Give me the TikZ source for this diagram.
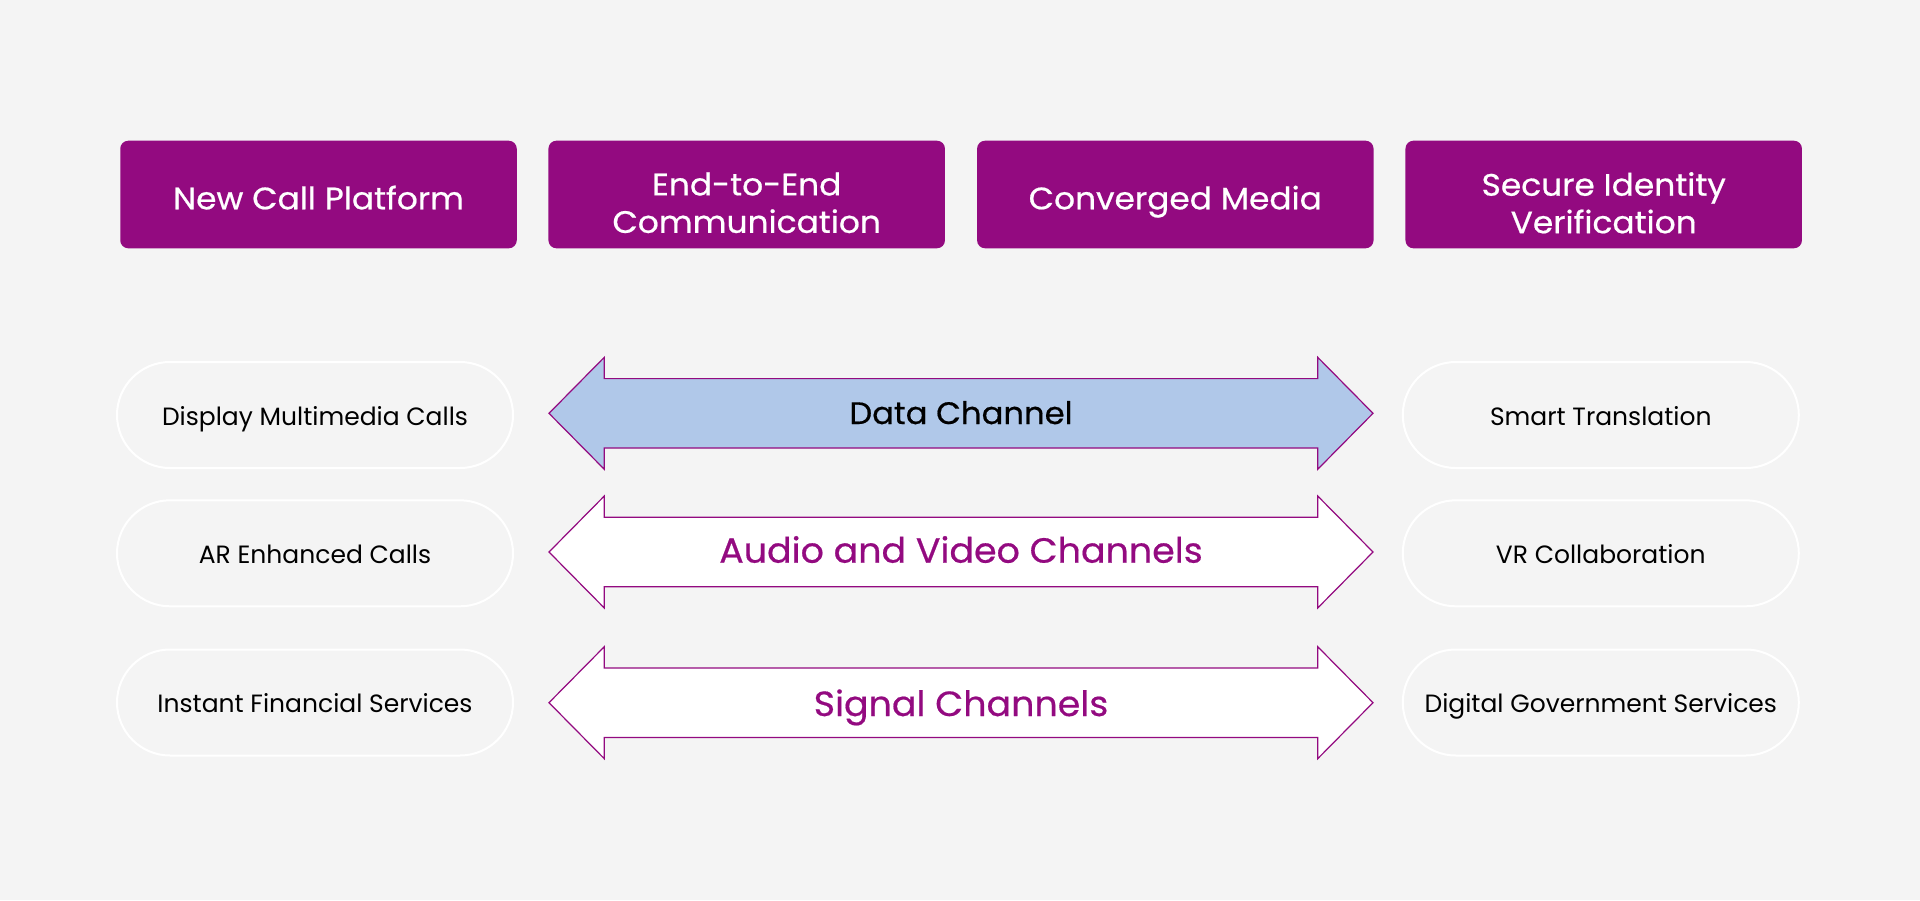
\documentclass[tikz,border=0pt]{standalone}
\usepackage{fontspec}
\setmainfont{Poppins}
\newfontfamily\topfont[FakeStretch=1.06, FakeBold=0.6]{Poppins}
\newfontfamily\arrowfont[FakeStretch=1.04, FakeBold=0.5]{Poppins}
\definecolor{brand}{RGB}{147,10,128}
\definecolor{bgc}{RGB}{244,244,244}
\definecolor{datafill}{RGB}{176,200,233}
\tikzset{
  topbox/.style={rectangle, rounded corners=8pt, fill=brand, minimum width=396.5pt, minimum height=107.6pt, inner sep=0pt},
  toptext/.style={text=white, align=center, inner sep=0pt, font=\topfont\fontsize{31}{37.5}\selectfont},
  pill/.style={rectangle, rounded corners=53pt, draw=white, line width=2pt, minimum width=396pt, minimum height=106pt, inner sep=0pt, text height=20.3pt, text depth=0pt, text=black, font=\fontsize{25}{29}\selectfont},
  arrowshape/.style={draw=brand, line width=1.2pt, line join=miter},
  arrowlabel/.style={inner sep=0pt, anchor=base, font=\arrowfont\fontsize{31}{36}\selectfont}
}
\begin{document}
\begin{tikzpicture}[x=1pt,y=-1pt]
\fill[bgc] (0,0) rectangle (1920,900);
\useasboundingbox (0,0) rectangle (1920,900);
% top boxes
\node[topbox] (b1) at (318.5,194.5) {};
\node[topbox] (b2) at (746.7,194.5) {};
\node[topbox] (b3) at (1175.3,194.5) {};
\node[topbox] (b4) at (1603.7,194.5) {};
\node[toptext, anchor=base] (b1t) at (318.5,209.3) {New Call Platform};
\node[toptext] (b2t) at (746.7,202.8) {End-to-End\\Communication};
\node[toptext, anchor=base] (b3t) at (1175.3,209.3) {Converged Media};
\node[toptext] (b4t) at (1603.7,202.8) {Secure Identity\\Verification};
% pills
\node[pill] (l1) at (315,415) {Display Multimedia Calls};
\node[pill] (l2) at (315,553.3) {AR Enhanced Calls};
\node[pill] (l3) at (315,702.5) {Instant Financial Services};
\node[pill] (r1) at (1600.8,415) {Smart Translation};
\node[pill] (r2) at (1600.8,553.3) {VR Collaboration};
\node[pill] (r3) at (1600.8,702.5) {Digital Government Services};
% arrows
\foreach \c/\fc in {413.3/datafill, 552/white, 702.7/white}{
  \draw[arrowshape, fill=\fc] (549,\c) -- (604.3,\c-56) -- (604.3,\c-34.7) -- (1317.7,\c-34.7) -- (1317.7,\c-56) -- (1373,\c) -- (1317.7,\c+56) -- (1317.7,\c+34.7) -- (604.3,\c+34.7) -- (604.3,\c+56) -- cycle;
}
\node[arrowlabel, text=black] (a1) at (961,424) {Data Channel};
\node[arrowlabel, text=brand, font=\arrowfont\fontsize{35}{40}\selectfont] (a2) at (961,562.7) {Audio and Video Channels};
\node[arrowlabel, text=brand, font=\arrowfont\fontsize{35}{40}\selectfont] (a3) at (961,716) {Signal Channels};
\end{tikzpicture}
\end{document}
